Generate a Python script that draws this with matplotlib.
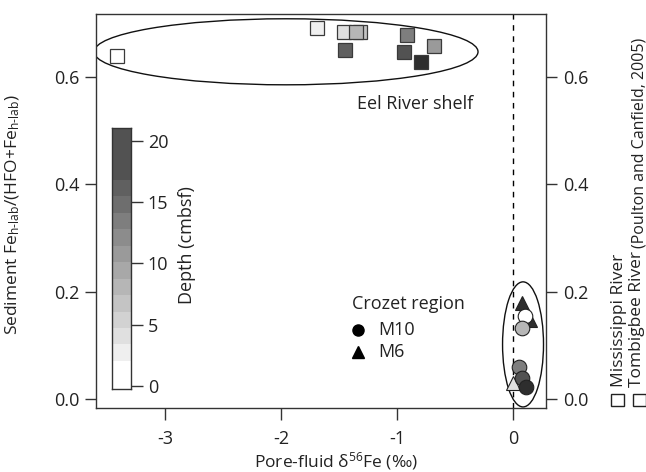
import numpy as np
import matplotlib
matplotlib.use("Agg")
import matplotlib.pyplot as plt
from matplotlib.colors import ListedColormap, BoundaryNorm
from matplotlib.patches import Ellipse

plt.rcParams['font.family'] = ['Open Sans', 'DejaVu Sans']
plt.rcParams['mathtext.fontset'] = 'custom'
plt.rcParams['mathtext.rm'] = 'Open Sans'
plt.rcParams['mathtext.it'] = 'Open Sans'
plt.rcParams['axes.unicode_minus'] = False

# ---- data ----
eel_x = [-3.41, -1.687, -1.454, -1.32, -1.356, -1.446, -0.916, -0.94, -0.678, -0.796]
eel_y = [0.638, 0.691, 0.684, 0.683, 0.683, 0.650, 0.678, 0.647, 0.658, 0.627]
eel_depth = [1, 2.5, 4, 6.5, 8, 16, 13.5, 20, 11, 25]

m10_x = [0.103, 0.075, 0.055, 0.08, 0.112]
m10_y = [0.155, 0.132, 0.060, 0.039, 0.023]
m10_depth = [1, 8, 13.5, 18, 25]

m6_x = [0.08, 0.147, 0.003]
m6_y = [0.178, 0.147, 0.029]
m6_depth = [25, 25, 4]

band_edges = [-0.25, 2.02, 3.39, 4.75, 6.07, 7.43, 8.74, 10.11, 11.45, 12.81, 14.15, 15.49, 16.83, 21.06]
band_colors = ['#ffffff', '#efefef', '#e0e0e0', '#d2d2d2', '#c4c4c4', '#b6b6b6', '#a8a8a8',
               '#9a9a9a', '#8c8c8c', '#7e7e7e', '#6e6e6e', '#606060', '#525252']
cb_ticks = [0, 5, 10, 15, 20]

x_ticks = [-3, -2, -1, 0]
y_ticks = [0.0, 0.2, 0.4, 0.6]

cmap = ListedColormap(band_colors)
cmap.set_over('#2e2e2e')
norm = BoundaryNorm(band_edges, cmap.N)

W, H = 646, 472
fig = plt.figure(figsize=(W / 100, H / 100), dpi=100)
ax = fig.add_axes([96 / W, 1 - 408 / H, 450 / W, 394 / H])
ax.set_xlim(-3.595, 0.284)
ax.set_ylim(-0.017, 0.717)

frame_c = '#333333'
txt_c = '#222222'
for s in ax.spines.values():
    s.set_color(frame_c)
    s.set_linewidth(1.0)

ax.axvline(0, color='black', lw=1.0, ls=(0, (4, 4)), zorder=1)

# Eel river squares
for x, y, d in zip(eel_x, eel_y, eel_depth):
    ax.plot(x, y, marker='s', ms=9.5, mfc=cmap(norm(d)), mec='#3a3a3a', mew=0.9, ls='none', zorder=3)

# Crozet triangles then circles
for x, y, d in zip(m6_x, m6_y, m6_depth):
    ax.plot(x, y, marker='^', ms=10, mfc=cmap(norm(d)), mec='#222222', mew=0.8, ls='none', zorder=3)
for x, y, d in zip(m10_x, m10_y, m10_depth):
    ax.plot(x, y, marker='o', ms=10.5, mfc=cmap(norm(d)), mec='#222222', mew=0.8, ls='none', zorder=4)

ax.add_patch(Ellipse((-1.957, 0.6466), 3.31, 0.123, fill=False, ec='#111111', lw=1.0, zorder=2))
ax.add_patch(Ellipse((0.086, 0.1015), 0.353, 0.233, fill=False, ec='#111111', lw=1.0, zorder=2, clip_on=False))

ax.text(0.58, 0.772, 'Eel River shelf', transform=ax.transAxes, fontsize=13, va='center', ha='left', color=txt_c)
ax.text(0.569, 0.264, 'Crozet region', transform=ax.transAxes, fontsize=13, va='center', ha='left', color=txt_c)
ax.plot([0.582], [0.198], marker='o', ms=8, color='black', transform=ax.transAxes, ls='none')
ax.plot([0.582], [0.142], marker='^', ms=8, color='black', transform=ax.transAxes, ls='none')
ax.text(0.627, 0.198, 'M10', transform=ax.transAxes, fontsize=13, va='center', ha='left', color=txt_c)
ax.text(0.627, 0.142, 'M6', transform=ax.transAxes, fontsize=13, va='center', ha='left', color=txt_c)

ax.set_xticks(x_ticks)
ax.set_xticklabels([str(t) for t in x_ticks])
ax.set_yticks(y_ticks)
ax.set_yticklabels(['%.1f' % t for t in y_ticks])
ax.tick_params(axis='x', direction='out', length=8.5, width=1, color=frame_c, labelsize=13, labelcolor=txt_c, pad=7)
ax.tick_params(axis='y', direction='out', length=8, width=1, color=frame_c, labelsize=13, labelcolor=txt_c, pad=4)

ax2 = ax.twinx()
ax2.set_ylim(ax.get_ylim())
ax2.set_yticks(y_ticks)
ax2.set_yticklabels(['%.1f' % t for t in y_ticks])
ax2.tick_params(direction='out', length=8, width=1, color=frame_c, labelsize=13, labelcolor=txt_c, pad=4)
for s in ax2.spines.values():
    s.set_visible(False)

ax.set_xlabel('Pore-fluid δ$^{\\mathregular{56}}$Fe (‰)', fontsize=12.5, color=txt_c, va='center')
ax.xaxis.set_label_coords(0.533, -0.134)
ax.set_ylabel('Sediment Fe$_{\\mathregular{h\\text{-}lab}}$/(HFO+Fe$_{\\mathregular{h\\text{-}lab}}$)',
              fontsize=12.5, color=txt_c, va='center')
ax.yaxis.set_label_coords(-0.184, 0.49)

# colorbar
cax = fig.add_axes([112 / W, 1 - 389 / H, 19 / W, 261 / H])
Xe = np.array([0, 1])
Ye = np.array(band_edges)
C = np.array([[(band_edges[i] + band_edges[i + 1]) / 2] for i in range(len(band_edges) - 1)])
cax.pcolormesh(Xe, Ye, C, cmap=cmap, norm=norm, shading='flat')
cax.set_xlim(0, 1)
cax.set_ylim(band_edges[0], band_edges[-1])
cax.set_xticks([])
cax.yaxis.tick_right()
cax.set_yticks(cb_ticks)
cax.set_yticklabels([str(t) for t in cb_ticks])
cax.tick_params(direction='out', length=8.5, width=1, color=frame_c, labelsize=13, labelcolor=txt_c, pad=3.5)
for s in cax.spines.values():
    s.set_color(frame_c)
    s.set_linewidth(1.0)
fig.text(187 / W, 1 - 245 / H, 'Depth (cmbsf)', rotation=90, fontsize=13, ha='center', va='center', color=txt_c)

# right side source legend
fig.add_artist(plt.Rectangle((611 / W, 1 - 406 / H), 13 / W, 12 / H, fill=False, ec=txt_c, lw=1.0,
                             transform=fig.transFigure))
fig.add_artist(plt.Rectangle((633 / W, 1 - 406 / H), 13 / W, 12 / H, fill=False, ec=txt_c, lw=1.0,
                             transform=fig.transFigure))
fig.text(619 / W, 1 - 387 / H, 'Mississippi River', rotation=90, fontsize=12.5, ha='center', va='bottom', color=txt_c)
fig.text(637 / W, 1 - 387 / H, 'Tombigbee River', rotation=90, fontsize=12.5, ha='center', va='bottom', color=txt_c)
fig.text(639 / W, 1 - 248 / H, '(Poulton and Canfield, 2005)', rotation=90, fontsize=11.5, ha='center', va='bottom', color=txt_c)

fig.savefig('out.png', dpi=100)
